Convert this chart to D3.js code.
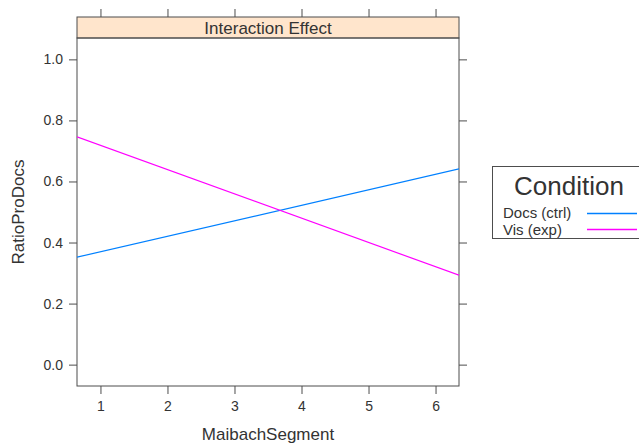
<!DOCTYPE html>
<html><head><meta charset="utf-8">
<script src="https://cdn.jsdelivr.net/npm/d3@7"></script>
<style>body{margin:0;background:#fff}svg{display:block}text{font-family:"Liberation Sans",Arial,sans-serif;fill:#333}</style>
</head><body><svg id="c" width="639" height="444"></svg>
<script>
(function(){
const xTicks = [1, 2, 3, 4, 5, 6];
const yTicks = [0.0, 0.2, 0.4, 0.6, 0.8, 1.0];
const segmentX = [0.65, 6.35];
const docsValues = [0.352, 0.641];
const visValues = [0.746, 0.293];
const seriesNames = ["Docs (ctrl)", "Vis (exp)"];
const seriesColors = ["#0080ff", "#ff00ff"];

const svg = d3.select("#c");
const L = 77, R = 459, T = 38, B = 386, stripTop = 17;
const x = d3.scaleLinear().domain([0.65, 6.35]).range([L, R]);
const y = d3.scaleLinear().domain([-0.07, 1.07]).range([B, T]);
const axisCol = "#4d4d4d";

// strip
svg.append("rect").attr("x", L).attr("y", stripTop).attr("width", R - L).attr("height", T - stripTop)
  .attr("fill", "#ffe5cc").attr("stroke", axisCol).attr("stroke-width", 1);
svg.append("text").attr("x", (L + R) / 2).attr("y", 34).attr("text-anchor", "middle")
  .attr("font-size", 17).text("Interaction Effect");

// panel
svg.append("rect").attr("x", L).attr("y", T).attr("width", R - L).attr("height", B - T)
  .attr("fill", "none").attr("stroke", axisCol).attr("stroke-width", 1);

// axes
const fmt = d3.format(".1f");
const gLeft = svg.append("g").attr("transform", `translate(${L},0)`)
  .call(d3.axisLeft(y).tickValues(yTicks).tickFormat(fmt).tickSize(8).tickPadding(6));
const gRight = svg.append("g").attr("transform", `translate(${R},0)`)
  .call(d3.axisRight(y).tickValues(yTicks).tickFormat("").tickSize(8));
const gBottom = svg.append("g").attr("transform", `translate(0,${B})`)
  .call(d3.axisBottom(x).tickValues(xTicks).tickFormat(d3.format("d")).tickSize(8).tickPadding(7));
const gTop = svg.append("g").attr("transform", `translate(0,${stripTop})`)
  .call(d3.axisTop(x).tickValues(xTicks).tickFormat("").tickSize(8));
[gLeft, gRight, gBottom, gTop].forEach(g => {
  g.select(".domain").remove();
  g.selectAll(".tick line").attr("stroke", axisCol);
  g.selectAll(".tick text").attr("font-size", 14).attr("fill", "#4d4d4d")
    .style("font-family", '"Liberation Sans",Arial,sans-serif');
});

// lines
svg.append("clipPath").attr("id", "pc").append("rect")
  .attr("x", L).attr("y", T).attr("width", R - L).attr("height", B - T);
const line = d3.line().x(d => x(d[0])).y(d => y(d[1]));
[docsValues, visValues].forEach((vals, i) => {
  svg.append("path").datum(segmentX.map((sx, j) => [sx, vals[j]]))
    .attr("d", line).attr("fill", "none").attr("stroke", seriesColors[i])
    .attr("stroke-width", 1.2).attr("clip-path", "url(#pc)");
});

// axis titles
svg.append("text").attr("x", 268).attr("y", 440).attr("text-anchor", "middle")
  .attr("font-size", 17).text("MaibachSegment");
svg.append("text").attr("transform", `translate(24,${(T + B) / 2}) rotate(-90)`)
  .attr("text-anchor", "middle").attr("font-size", 17).text("RatioProDocs");

// legend
const lg = svg.append("g");
lg.append("rect").attr("x", 492.5).attr("y", 166.5).attr("width", 160).attr("height", 72)
  .attr("fill", "#fff").attr("stroke", axisCol).attr("stroke-width", 1);
lg.append("text").attr("x", 569).attr("y", 195).attr("text-anchor", "middle")
  .attr("font-size", 26).attr("fill", "#222").text("Condition");
const rowBase = [218, 235];
const rowLine = [213.5, 229.5];
seriesNames.forEach((n, i) => {
  lg.append("text").attr("x", 503).attr("y", rowBase[i]).attr("font-size", 15).text(n);
  lg.append("line").attr("x1", 587).attr("x2", 637).attr("y1", rowLine[i]).attr("y2", rowLine[i])
    .attr("stroke", seriesColors[i]).attr("stroke-width", 1.3);
});
})();
</script></body></html>
